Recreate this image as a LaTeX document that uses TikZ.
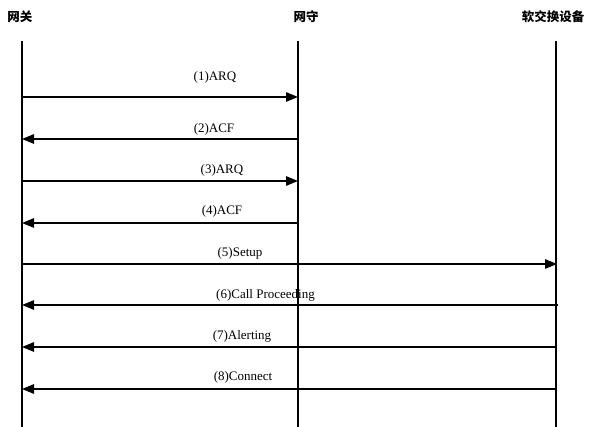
\documentclass[tikz,border=0pt]{standalone}
\usepackage{fontspec}
\setmainfont{Liberation Serif}
\newfontfamily\cjk{Noto Sans CJK SC}
\usetikzlibrary{arrows.meta}
\begin{document}
\begin{tikzpicture}[x=1pt,y=-1pt,
  lifeline/.style={line width=1.3pt},
  msg/.style={line width=1.3pt,-{Triangle[length=12pt,width=9.5pt]}},
  msglabel/.style={font=\fontsize{13}{15}\selectfont, inner sep=0pt},
  header/.style={font=\cjk\fontsize{12.5}{14}\selectfont\bfseries, inner sep=0pt}]
\useasboundingbox (0,0) rectangle (590,427);
% headers
\node[header] (hgw) at (20,17) {网关};
\node[header] (hgk) at (306,17) {网守};
\node[header] (hss) at (553,17) {软交换设备};
% lifelines
\coordinate (gwT) at (22,41);  \coordinate (gwB) at (22,427);
\coordinate (gkT) at (298,41); \coordinate (gkB) at (298,427);
\coordinate (ssT) at (556,41); \coordinate (ssB) at (556,427);
\draw[lifeline] (gwT) -- (gwB);
\draw[lifeline] (gkT) -- (gkB);
\draw[lifeline] (ssT) -- (ssB);
% message end points
\coordinate (m1a) at (22,97);  \coordinate (m1b) at (298,97);
\coordinate (m2a) at (298,139); \coordinate (m2b) at (22,139);
\coordinate (m3a) at (22,181);  \coordinate (m3b) at (298,181);
\coordinate (m4a) at (298,223); \coordinate (m4b) at (22,223);
\coordinate (m5a) at (22,264);  \coordinate (m5b) at (557,264);
\coordinate (m6a) at (558,305); \coordinate (m6b) at (22,305);
\coordinate (m7a) at (556,347); \coordinate (m7b) at (22,347);
\coordinate (m8a) at (556,389); \coordinate (m8b) at (22,389);
% messages
\draw[msg] (m1a) -- (m1b);
\draw[msg] (m2a) -- (m2b);
\draw[msg] (m3a) -- (m3b);
\draw[msg] (m4a) -- (m4b);
\draw[msg] (m5a) -- (m5b);
\draw[msg] (m6a) -- (m6b);
\draw[msg] (m7a) -- (m7b);
\draw[msg] (m8a) -- (m8b);
% labels
\node[msglabel] (l1) at (215,77) {(1)ARQ};
\node[msglabel] (l2) at (214,129) {(2)ACF};
\node[msglabel] (l3) at (222,170) {(3)ARQ};
\node[msglabel] (l4) at (222,211) {(4)ACF};
\node[msglabel] (l5) at (240,253) {(5)Setup};
\node[msglabel, anchor=west] (l6) at (216,295) {(6)Call Proceeding};
\node[msglabel] (l7) at (242,336) {(7)Alerting};
\node[msglabel] (l8) at (243,377) {(8)Connect};
\end{tikzpicture}
\end{document}
